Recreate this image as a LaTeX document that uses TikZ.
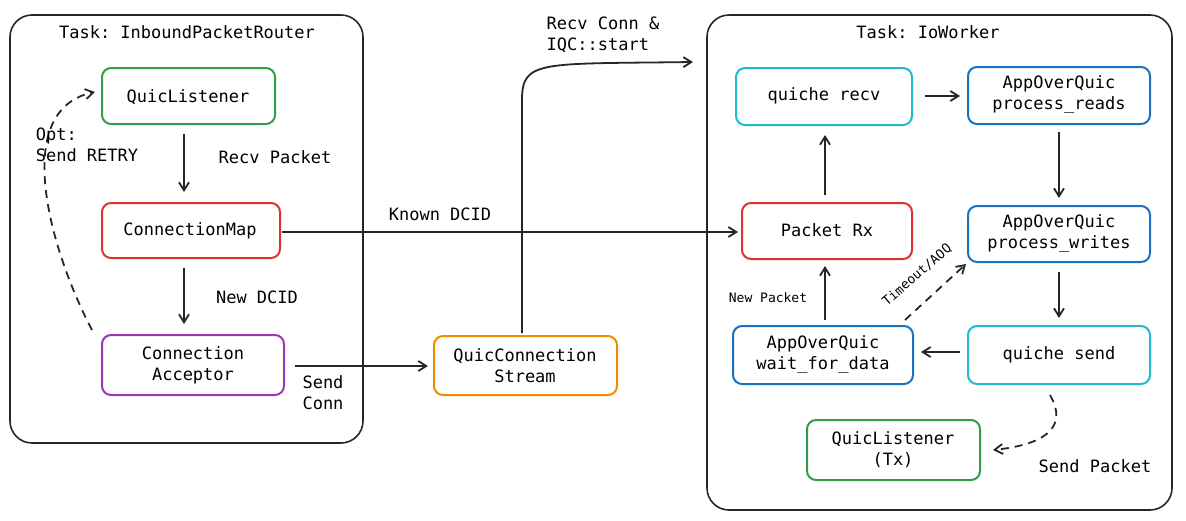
\documentclass[tikz,border=0pt]{standalone}
\usepackage{fontspec}
\setmonofont{DejaVu Sans Mono}
\usetikzlibrary{arrows.meta}
\definecolor{cgreen}{HTML}{2F9E44}
\definecolor{cred}{HTML}{E03131}
\definecolor{cpurple}{HTML}{9C36B5}
\definecolor{corange}{HTML}{F08C00}
\definecolor{ccyan}{HTML}{22B8CF}
\definecolor{cblue}{HTML}{1971C2}
\begin{document}
\begin{tikzpicture}[x=1pt,y=-1pt,
  font=\ttfamily\fontsize{17}{21}\selectfont,
  frame/.style={draw=black!85,line width=1.6pt,rounded corners=22pt},
  box/.style={draw=#1,line width=2pt,rounded corners=9pt,align=center,fill=white},
  arr/.style={-{Straight Barb[length=8pt,width=10pt]},line width=1.8pt,black!85},
  dsh/.style={dash pattern=on 8pt off 6pt},
  lbl/.style={align=left},
  small/.style={font=\ttfamily\fontsize{13}{15}\selectfont}]
\useasboundingbox (0,0) rectangle (1186,520);
\draw[frame] (10,15) rectangle (363,443);
\draw[frame] (707,15) rectangle (1172,510);
\node (t1) at (187,32) {Task: InboundPacketRouter};
\node (t2) at (928,32) {Task: IoWorker};
\path[box=cgreen] (102,68) rectangle (275,124);
\node (ql) at (188,97) {QuicListener};
\path[box=cred] (102,203) rectangle (280,258);
\node (cm) at (190,231) {ConnectionMap};
\path[box=cpurple] (102,335) rectangle (284,395);
\node[align=center] (ca) at (193,365) {Connection\\Acceptor};
\path[box=corange] (434,336) rectangle (617,395);
\node[align=center] (qs) at (525,366) {QuicConnection\\Stream};
\path[box=ccyan] (736,68) rectangle (912,125);
\node (qr) at (824,96) {quiche recv};
\path[box=cblue] (968,67) rectangle (1150,124);
\node[align=center] (pr) at (1059,95) {AppOverQuic\\process\_reads};
\path[box=cred] (742,203) rectangle (912,259);
\node (rx) at (827,230) {Packet Rx};
\path[box=cblue] (968,206) rectangle (1150,262);
\node[align=center] (pw) at (1059,234) {AppOverQuic\\process\_writes};
\path[box=cblue] (733,326) rectangle (913,384);
\node[align=center] (wd) at (823,355) {AppOverQuic\\wait\_for\_data};
\path[box=ccyan] (968,326) rectangle (1150,384);
\node (qsend) at (1059,355) {quiche send};
\path[box=cgreen] (807,420) rectangle (980,480);
\node[align=center] (qt) at (893,450) {QuicListener\\(Tx)};

\coordinate (a1) at (184,134); \coordinate (b1) at (184,192);
\draw[arr] (a1) -- (b1);
\node[lbl] (l1) at (275,157) {Recv Packet};
\coordinate (a2) at (184,268); \coordinate (b2) at (184,324);
\draw[arr] (a2) -- (b2);
\node[lbl] (l2) at (257,297) {New DCID};
\coordinate (a3) at (92,330); \coordinate (b3) at (95,92);
\draw[arr,dsh] (a3) .. controls (50,250) and (10,110) .. (b3);
\node[lbl] (l3) at (87,145) {Opt:\\Send RETRY};
\coordinate (a4) at (282,232); \coordinate (b4) at (738,232);
\draw[arr] (a4) -- (b4);
\node[lbl] (l4) at (440,214) {Known DCID};
\coordinate (a5) at (295,366); \coordinate (b5) at (428,366);
\draw[arr] (a5) -- (b5);
\node[lbl] (l5) at (323,393) {Send\\Conn};
\coordinate (a6) at (522,333); \coordinate (b6) at (693,62);
\draw[arr] (a6) -- (522,100) .. controls (522,60) and (540,64) .. (b6);
\node[lbl] (l6) at (603,35) {Recv Conn \&\\IQC::start};
\coordinate (a7) at (925,96); \coordinate (b7) at (960,96);
\draw[arr] (a7) -- (b7);
\coordinate (a8) at (1059,132); \coordinate (b8) at (1059,198);
\draw[arr] (a8) -- (b8);
\coordinate (a9) at (1059,272); \coordinate (b9) at (1059,318);
\draw[arr] (a9) -- (b9);
\coordinate (a10) at (960,352); \coordinate (b10) at (921,352);
\draw[arr] (a10) -- (b10);
\coordinate (a11) at (825,320); \coordinate (b11) at (825,266);
\draw[arr] (a11) -- (b11);
\node[small] (l11) at (768,298) {New Packet};
\coordinate (a12) at (905,320); \coordinate (b12) at (966,264);
\draw[arr,dsh] (a12) -- (b12);
\node[small,rotate=41] (l12) at (917,275) {Timeout/AOQ};
\coordinate (a13) at (825,195); \coordinate (b13) at (825,135);
\draw[arr] (a13) -- (b13);
\coordinate (a14) at (1050,395); \coordinate (b14) at (993,450);
\draw[arr,dsh] (a14) .. controls (1070,430) and (1040,445) .. (b14);
\node[lbl] (l14) at (1095,466) {Send Packet};
\end{tikzpicture}
\end{document}
